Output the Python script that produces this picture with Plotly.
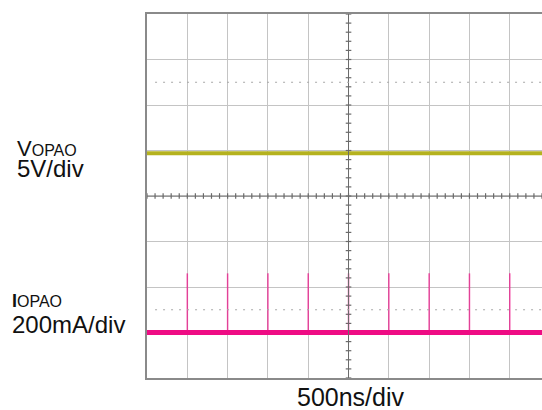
import plotly.graph_objects as go

# ---------------- data ----------------
v_time_ns = [-2500, 2400]
v_opao_V = [4.7, 4.7]          # channel 1, 5 V/div
i_time_ns = [-2500, 2400]
i_opao_mA = [0, 0]             # channel 2, 200 mA/div
spike_times_ns = [-2000, -1500, -1000, -500, 0, 500, 1000, 1500, 2000]
spike_peak_mA = [260, 260, 260, 260, 260, 260, 260, 260, 260]

# ---------------- layout constants ----------------
W, H = 542, 410
L, R, T, B = 147, 0, 14, 32
PW, PH = W - L - R, H - T - B
X0, X1 = -2500, 2400
Y0, Y1 = -20, 20

YEL = "#b5b21f"
PINK = "#ee0c84"
GRID = "#c4c4c4"
BORDER = "#8a8a8a"
AX = "#6a6a6a"
FONT = "Liberation Sans, Arial, sans-serif"


def px(xp, yp):
    return (xp - L) / PW, (H - B - yp) / PH


fig = go.Figure()

# spikes (thin)
sx, sy = [], []
for t, p in zip(spike_times_ns, spike_peak_mA):
    sx += [t, t, None]
    sy += [i_opao_mA[0], p, None]
fig.add_trace(go.Scatter(x=sx, y=sy, yaxis="y2", mode="lines",
                         line=dict(color="rgba(238,12,132,0.7)", width=1.5),
                         hoverinfo="skip", showlegend=False))
# current baseline
fig.add_trace(go.Scatter(x=i_time_ns, y=i_opao_mA, yaxis="y2", mode="lines",
                         line=dict(color=PINK, width=5), showlegend=False))
# voltage trace
fig.add_trace(go.Scatter(x=v_time_ns, y=v_opao_V, mode="lines",
                         line=dict(color=YEL, width=4), showlegend=False))

# center crosshair minor ticks
vt = [Y0 + k * 1 for k in range(41)]
fig.add_trace(go.Scatter(x=[0] * len(vt), y=vt, mode="markers",
                         marker=dict(symbol="line-ew", size=4,
                                     line=dict(color=AX, width=1.2)),
                         hoverinfo="skip", showlegend=False))
ht = [X0 + k * 100 for k in range(50)]
fig.add_trace(go.Scatter(x=ht, y=[0] * len(ht), mode="markers",
                         marker=dict(symbol="line-ns", size=4,
                                     line=dict(color=AX, width=1.2)),
                         hoverinfo="skip", showlegend=False))

# ground reference markers and trigger marker
fig.add_trace(go.Scatter(x=[X0 - 20], y=[0], mode="markers", cliponaxis=False,
                         marker=dict(symbol="line-ew", size=6,
                                     line=dict(color=YEL, width=3)),
                         hoverinfo="skip", showlegend=False))
fig.add_trace(go.Scatter(x=[X0 - 20], y=[0], yaxis="y2", mode="markers",
                         cliponaxis=False,
                         marker=dict(symbol="triangle-right", size=7, color=PINK),
                         hoverinfo="skip", showlegend=False))
fig.add_trace(go.Scatter(x=[0], y=[Y0 - 0.35], mode="markers", cliponaxis=False,
                         marker=dict(symbol="triangle-up", size=5, color=PINK),
                         hoverinfo="skip", showlegend=False))

shapes = [
    dict(type="line", xref="x", yref="y", x0=0, x1=0, y0=Y0, y1=Y1,
         line=dict(color=AX, width=1)),
    dict(type="line", xref="x", yref="y", x0=X0, x1=X1, y0=0, y1=0,
         line=dict(color=AX, width=1)),
    dict(type="line", xref="x", yref="y", x0=X0 + 100, x1=X1, y0=12.5, y1=12.5,
         line=dict(color="#a8a8a8", width=1, dash="2px,6px")),
    dict(type="line", xref="x", yref="y", x0=X0 + 100, x1=X1, y0=-12.5, y1=-12.5,
         line=dict(color="#a8a8a8", width=1, dash="2px,6px")),
]

ann = []


def label(text, xp, yp, size, xanchor="left"):
    x, y = px(xp, yp)
    ann.append(dict(text=text, x=x, y=y, xref="paper", yref="paper",
                    xanchor=xanchor, yanchor="middle", align="left",
                    showarrow=False,
                    font=dict(family=FONT, size=size, color="#111111")))


label("<span style='font-size:22px'>V</span>OPAO<br>"
      "<span style='font-size:24px'>5V/div</span>", 15, 158.5, 16)
label("<span style='font-size:18px;font-weight:bold'>I</span>"
      "<span style='font-size:16px'>OPAO</span><br>"
      "<span style='font-size:24px'>200mA/div</span>", 10, 314, 20)
label("500ns/div", 351, 397, 25, xanchor="center")

fig.update_layout(
    width=W, height=H,
    margin=dict(l=L, r=R, t=T, b=B, pad=0),
    paper_bgcolor="white", plot_bgcolor="white",
    shapes=shapes, annotations=ann,
    xaxis=dict(range=[X0, X1], tick0=0, dtick=500, showgrid=True,
               gridcolor=GRID, gridwidth=1, zeroline=False,
               showticklabels=False, ticks="", showline=True,
               linecolor=BORDER, linewidth=1.5, mirror=True),
    yaxis=dict(range=[Y0, Y1], tick0=0, dtick=5, showgrid=True,
               gridcolor=GRID, gridwidth=1, zeroline=False,
               showticklabels=False, ticks="", showline=True,
               linecolor=BORDER, linewidth=1.5, mirror=False),
    yaxis2=dict(range=[-200, 1400], overlaying="y", visible=False),
    showlegend=False,
)

fig.write_html("out.html")
